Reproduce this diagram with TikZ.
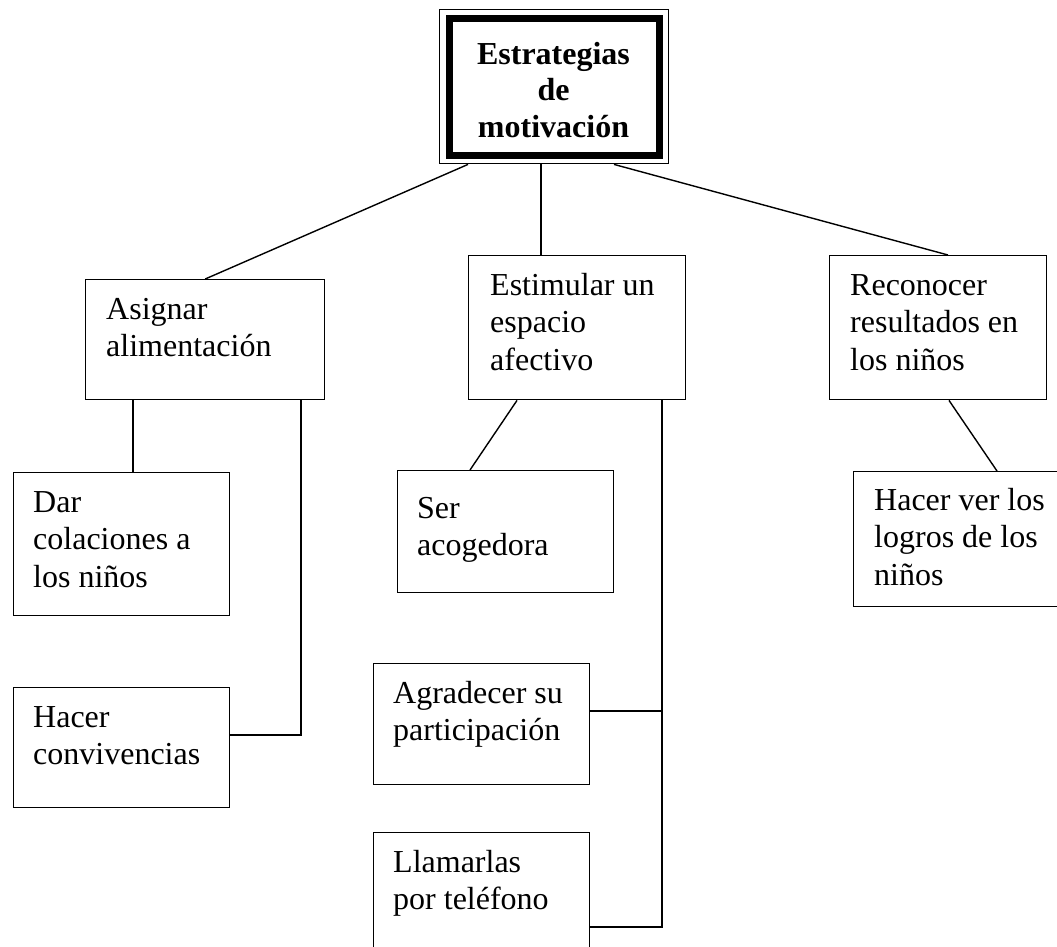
\documentclass[tikz,border=0pt]{standalone}
\usepackage{fontspec}
\setmainfont{Liberation Serif}
\usetikzlibrary{calc}
\newcommand\mystrut{\rule{0pt}{26pt}}
\begin{document}
\begin{tikzpicture}[x=1pt,y=1pt,
  box/.style={draw, line width=1.4pt, rectangle, anchor=north west, inner sep=0pt},
  txt/.style={anchor=north west, inner sep=0pt, align=left, font=\fontsize{32}{37.5}\selectfont},
  conn/.style={line width=1.4pt}]
\useasboundingbox (0,0) rectangle (1057,-946);
\clip (0,0) rectangle (1057,-946);
% title
\node[box, line width=1.4pt, minimum width=229pt, minimum height=154pt] (tit) at (439,-9) {};
\draw[line width=7pt] (449.5,-18.5) rectangle (659,-155.5);
\node[anchor=north, inner sep=0pt, align=center, font=\fontsize{32}{36.5}\selectfont\bfseries] (tittxt) at (553.5,-38) {\mystrut Estrategias\\de\\motivación};
% level 1
\node[box, minimum width=239pt, minimum height=120pt] (asig) at (85,-279) {};
\node[box, minimum width=217pt, minimum height=144pt] (estim) at (468,-255) {};
\node[box, minimum width=217pt, minimum height=144pt] (recon) at (829,-255) {};
% level 2
\node[box, minimum width=216pt, minimum height=143pt] (dar) at (13,-472) {};
\node[box, minimum width=216pt, minimum height=120pt] (hconv) at (13,-687) {};
\node[box, minimum width=216pt, minimum height=122pt] (ser) at (397,-470) {};
\node[box, minimum width=216pt, minimum height=121pt] (agr) at (373,-663) {};
\node[box, minimum width=216pt, minimum height=140pt] (llam) at (373,-832) {};
\node[box, minimum width=230pt, minimum height=135pt] (hver) at (853,-471) {};
% texts
\node[txt] (t1) at (106,-293) {\mystrut Asignar\\alimentación};
\node[txt] (t2) at (490,-269) {\mystrut Estimular un\\espacio\\afectivo};
\node[txt] (t3) at (850,-269) {\mystrut Reconocer\\resultados en\\los niños};
\node[txt] (t4) at (33,-486) {\mystrut Dar\\colaciones a\\los niños};
\node[txt] (t5) at (33,-701) {\mystrut Hacer\\convivencias};
\node[txt] (t6) at (417,-492) {\mystrut Ser\\acogedora};
\node[txt] (t7) at (393,-677) {\mystrut Agradecer su\\participación};
\node[txt] (t8) at (393,-846) {\mystrut Llamarlas\\por teléfono};
\node[txt] (t9) at (874,-484) {\mystrut Hacer ver los\\logros de los\\niños};
% connectors
\draw[conn] ([xshift=29pt]tit.south west) -- (asig.north);
\draw[conn] ([xshift=102pt]tit.south west) -- ([xshift=73pt]estim.north west);
\draw[conn] ([xshift=175pt]tit.south west) -- ([xshift=119pt]recon.north west);
\draw[conn] ([xshift=48pt]asig.south west) -- ([xshift=120pt]dar.north west);
\draw[conn] ([xshift=216pt]asig.south west) |- ([yshift=-48pt]hconv.north east);
\draw[conn] ([xshift=49pt]estim.south west) -- ([xshift=73pt]ser.north west);
\draw[conn] ([xshift=194pt]estim.south west) |- ([yshift=-48pt]agr.north east);
\draw[conn] ([xshift=194pt]estim.south west) |- ([yshift=-95pt]llam.north east);
\draw[conn] ([xshift=120pt]recon.south west) -- ([xshift=144pt]hver.north west);
\end{tikzpicture}
\end{document}
